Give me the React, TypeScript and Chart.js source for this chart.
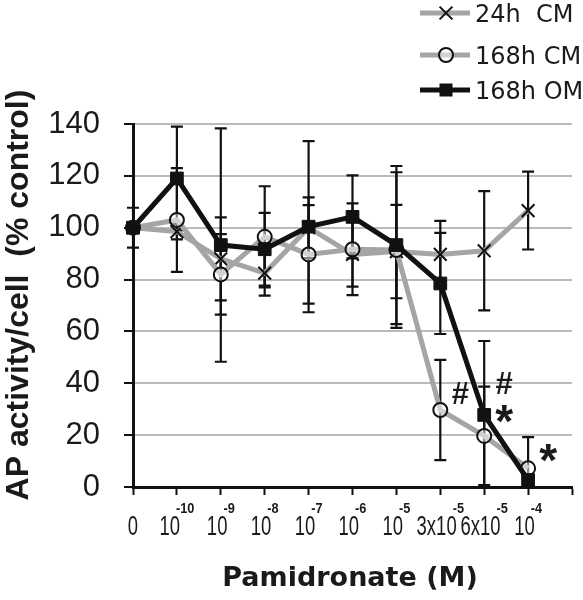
import React, { useEffect, useRef } from 'react';
import { Chart, registerables } from 'chart.js';

Chart.register(...registerables);

// ---- data ----
const categories = ['0', '1e-10', '1e-9', '1e-8', '1e-7', '1e-6', '1e-5', '3e-5', '6e-5', '1e-4', ''];
const tickBase = ['0', '10', '10', '10', '10', '10', '10', '3x10', '6x10', '10'];
const tickExp = ['', '-10', '-9', '-8', '-7', '-6', '-5', '-5', '-5', '-4'];

const legendLabels = ['24h  CM', '168h CM', '168h OM'];

const cm24 = [100, 98.5, 88, 82.5, 100, 89.7, 90.8, 89.7, 91.1, 106.6];
const cm24Err = [0, 3, 16, 8.7, 11.7, 12.4, 18, 12.9, 23, 15];
const cm168 = [100, 103, 82, 96.5, 89.7, 91.7, 91.4, 29.7, 19.7, 7.2];
const cm168Err = [0, 20, 15.5, 19.5, 19, 17.7, 30, 19.3, 19, 12];
const om168 = [100, 119, 93.3, 91.7, 100.4, 104.2, 93.3, 78.5, 27.8, 2.7];
const om168Err = [7.7, 20, 45, 14, 33, 16, 30.5, 19.5, 28.5, 2];

const markText = ['#', '#', '*', '*'];
const markIndex = [7, 8, 8, 9];
const markValue = [36, 40, 28.5, 13.5];

const xTitle = 'Pamidronate (M)';
const yTitle = 'AP activity/cell  (% control)';

// ---- styles ----
const GRAY = '#a3a6a5';
const BLACK = '#111111';
const GRID = '#b9bcbb';
const TEXT = '#1a1a1a';

const errorBarPlugin = {
  id: 'errorBars',
  beforeDatasetsDraw(chart: any) {
    const { ctx, chartArea } = chart;
    const x = chart.scales.x;
    const y = chart.scales.y;
    ctx.save();
    ctx.beginPath();
    ctx.rect(chartArea.left - 10, chartArea.top - 3, chartArea.right - chartArea.left + 20, chartArea.bottom - chartArea.top + 2);
    ctx.clip();
    ctx.strokeStyle = BLACK;
    ctx.lineWidth = 2.2;
    chart.data.datasets.forEach((ds: any) => {
      const errs: number[] = ds.errors || [];
      ds.data.forEach((v: number, j: number) => {
        const e = errs[j];
        if (!e) return;
        const px = x.getPixelForValue(j);
        const t = y.getPixelForValue(v + e);
        const b = y.getPixelForValue(v - e);
        ctx.beginPath();
        ctx.moveTo(px, t);
        ctx.lineTo(px, b);
        ctx.moveTo(px - 6, t);
        ctx.lineTo(px + 6, t);
        ctx.moveTo(px - 6, b);
        ctx.lineTo(px + 6, b);
        ctx.stroke();
      });
    });
    ctx.restore();
  },
};

function drawMarker(ctx: CanvasRenderingContext2D, style: string, x: number, y: number) {
  ctx.save();
  ctx.strokeStyle = BLACK;
  ctx.fillStyle = BLACK;
  ctx.lineWidth = 2;
  if (style === 'crossRot') {
    const d = 6.4;
    ctx.beginPath();
    ctx.moveTo(x - d, y - d);
    ctx.lineTo(x + d, y + d);
    ctx.moveTo(x - d, y + d);
    ctx.lineTo(x + d, y - d);
    ctx.stroke();
  } else if (style === 'circle') {
    ctx.fillStyle = 'rgba(255,255,255,0.5)';
    ctx.beginPath();
    ctx.arc(x, y, 7, 0, Math.PI * 2);
    ctx.fill();
    ctx.stroke();
  } else {
    ctx.fillRect(x - 6.5, y - 6.5, 13, 13);
  }
  ctx.restore();
}

const textPlugin = {
  id: 'texts',
  afterDraw(chart: any) {
    const { ctx } = chart;
    const x = chart.scales.x;
    const y = chart.scales.y;
    ctx.save();
    ctx.fillStyle = TEXT;

    // x tick labels with superscripts
    const baseFont = '28px "Liberation Sans", Arial, sans-serif';
    const expFont = 'bold 15px "Liberation Sans", Arial, sans-serif';
    const sx = 0.66;
    const sxe = 0.85;
    ctx.textBaseline = 'alphabetic';
    ctx.textAlign = 'left';
    tickBase.forEach((b, i) => {
      const px = x.getPixelForTick(i);
      ctx.font = baseFont;
      const bw = ctx.measureText(b).width * sx;
      ctx.font = expFont;
      const e = tickExp[i];
      const ew = e ? ctx.measureText(e).width * sxe : 0;
      const gap = e ? -4 : 0;
      const total = bw + ew + gap;
      const start = px - total / 2;
      ctx.save();
      ctx.font = baseFont;
      ctx.translate(start, 535);
      ctx.scale(sx, 1);
      ctx.fillText(b, 0, 0);
      ctx.restore();
      if (e) {
        ctx.save();
        ctx.font = expFont;
        ctx.translate(start + bw + gap, 513);
        ctx.scale(sxe, 1);
        ctx.fillText(e, 0, 0);
        ctx.restore();
      }
    });

    // x title
    ctx.font = 'bold 27px "DejaVu Sans", sans-serif';
    ctx.textAlign = 'center';
    ctx.textBaseline = 'alphabetic';
    ctx.fillText(xTitle, 350, 586);

    // y title
    ctx.save();
    ctx.translate(28, 295);
    ctx.rotate(-Math.PI / 2);
    ctx.font = 'bold 32px "Liberation Sans", Arial, sans-serif';
    ctx.textAlign = 'center';
    ctx.textBaseline = 'alphabetic';
    ctx.fillText(yTitle, 0, 0);
    ctx.restore();

    // significance marks
    markText.forEach((t, k) => {
      const px = x.getPixelForValue(markIndex[k]) + 20;
      const py = y.getPixelForValue(markValue[k]);
      ctx.textAlign = 'center';
      ctx.textBaseline = 'alphabetic';
      if (t === '*') {
        ctx.font = 'bold 46px "Liberation Sans", Arial, sans-serif';
        ctx.fillText(t, px, py + 24);
      } else {
        ctx.font = 'bold 31px "Liberation Sans", Arial, sans-serif';
        ctx.fillText(t, px, py + 10.5);
      }
    });

    // legend
    const rows = [13, 55, 90];
    chart.data.datasets.forEach((ds: any, k: number) => {
      const ly = rows[k];
      ctx.save();
      ctx.strokeStyle = ds.borderColor;
      ctx.lineWidth = ds.borderWidth;
      ctx.beginPath();
      ctx.moveTo(420, ly);
      ctx.lineTo(470, ly);
      ctx.stroke();
      ctx.restore();
      drawMarker(ctx, ds.pointStyle, 446, ly);
      ctx.fillStyle = TEXT;
      ctx.font = '24px "DejaVu Sans", sans-serif';
      ctx.textAlign = 'left';
      ctx.textBaseline = 'alphabetic';
      ctx.fillText(ds.label, 475, ly + 8.5);
    });

    ctx.restore();
  },
};

export default function App() {
  const ref = useRef<HTMLCanvasElement>(null);
  useEffect(() => {
    const canvas = ref.current;
    if (!canvas) return;
    const chart = new Chart(canvas, {
      type: 'line',
      data: {
        labels: categories,
        datasets: [
          {
            label: legendLabels[0],
            data: cm24,
            errors: cm24Err,
            borderColor: GRAY,
            borderWidth: 5,
            pointStyle: 'crossRot',
            pointRadius: 9,
            pointBorderColor: BLACK,
            pointBorderWidth: 2,
            pointBackgroundColor: 'rgba(0,0,0,0)',
            order: 2,
          },
          {
            label: legendLabels[1],
            data: cm168,
            errors: cm168Err,
            borderColor: GRAY,
            borderWidth: 5,
            pointStyle: 'circle',
            pointRadius: 7,
            pointBorderColor: BLACK,
            pointBorderWidth: 2,
            pointBackgroundColor: 'rgba(255,255,255,0.5)',
            order: 1,
          },
          {
            label: legendLabels[2],
            data: om168,
            errors: om168Err,
            borderColor: BLACK,
            borderWidth: 5,
            pointStyle: 'rect',
            pointRadius: 9,
            pointBorderColor: BLACK,
            pointBorderWidth: 1,
            pointBackgroundColor: BLACK,
            order: 0,
          },
        ] as any,
      },
      options: {
        responsive: false,
        animation: false,
        events: [],
        layout: { padding: { top: 124, right: 4, left: 0, bottom: 0 } },
        plugins: { legend: { display: false }, tooltip: { enabled: false } },
        scales: {
          x: {
            type: 'category',
            offset: false,
            grid: {
              display: true,
              drawOnChartArea: false,
              drawTicks: true,
              tickLength: 8,
              tickColor: BLACK,
              tickWidth: 2,
            },
            border: { display: true, color: BLACK, width: 3 },
            ticks: { display: false, autoSkip: false },
            afterFit: (s: any) => {
              s.height = 113;
            },
          },
          y: {
            min: 0,
            max: 140,
            ticks: {
              stepSize: 20,
              padding: 24,
              color: TEXT,
              font: { family: '"Liberation Sans", Arial, sans-serif', size: 31 },
            },
            grid: {
              color: (c: any) => (c.tick && c.tick.value === 0 ? 'rgba(0,0,0,0)' : GRID),
              lineWidth: 2,
              tickColor: BLACK,
              tickLength: 9,
              tickWidth: 2,
            },
            border: { display: true, color: BLACK, width: 3 },
            afterFit: (s: any) => {
              s.width = 133;
            },
          },
        },
      } as any,
      plugins: [errorBarPlugin, textPlugin],
    });
    return () => chart.destroy();
  }, []);
  return (
    <div style={{ position: 'fixed', left: 0, top: 0, width: 583, height: 600, background: '#fff' }}>
      <canvas ref={ref} width={583} height={600} style={{ display: 'block' }} />
    </div>
  );
}
